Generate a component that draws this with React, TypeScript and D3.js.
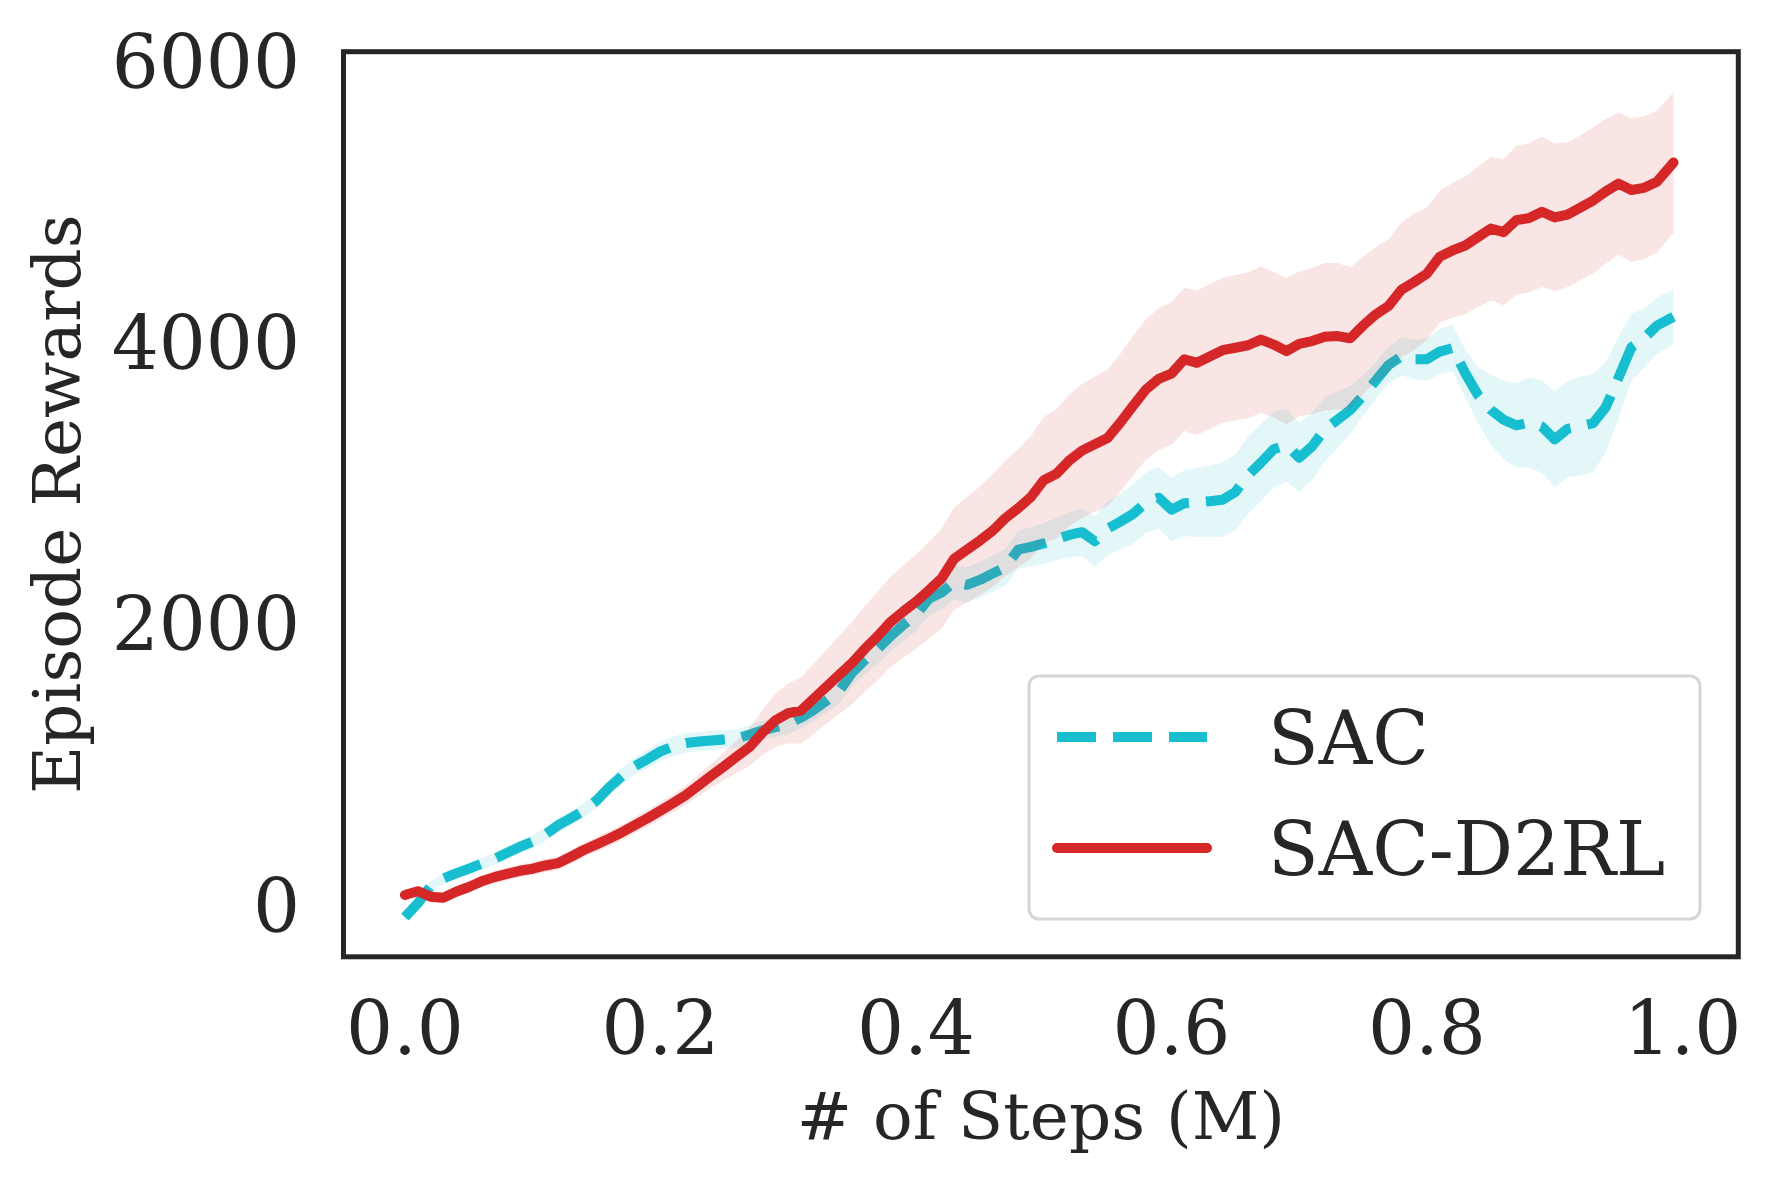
import * as d3 from 'd3'

// x positions (million steps)
const steps = [
  0.0, 0.01, 0.02, 0.03, 0.04, 0.05, 0.06, 0.07, 0.08, 0.09,
  0.1, 0.11, 0.12, 0.13, 0.14, 0.15, 0.16, 0.17, 0.18, 0.19,
  0.2, 0.21, 0.22, 0.23, 0.24, 0.25, 0.26, 0.27, 0.28, 0.29,
  0.3, 0.31, 0.32, 0.33, 0.34, 0.35, 0.36, 0.37, 0.38, 0.39,
  0.4, 0.41, 0.42, 0.43, 0.44, 0.45, 0.46, 0.47, 0.48, 0.49,
  0.5, 0.51, 0.52, 0.53, 0.54, 0.55, 0.56, 0.57, 0.58, 0.59,
  0.6, 0.61, 0.62, 0.63, 0.64, 0.65, 0.66, 0.67, 0.68, 0.69,
  0.7, 0.71, 0.72, 0.73, 0.74, 0.75, 0.76, 0.77, 0.78, 0.79,
  0.8, 0.81, 0.82, 0.83, 0.84, 0.85, 0.86, 0.87, 0.88, 0.89,
  0.9, 0.91, 0.92, 0.93, 0.94, 0.95, 0.96, 0.97, 0.98, 0.993,
]

const sacMean = [
  -90, 8, 130, 185, 222, 255, 290, 325, 368, 410,
  448, 500, 565, 615, 668, 740, 835, 915, 985, 1035,
  1090, 1125, 1150, 1160, 1168, 1175, 1183, 1210, 1240, 1262,
  1285, 1330, 1385, 1450, 1520, 1650, 1740, 1818, 1910, 1990,
  2060, 2175, 2220, 2295, 2275, 2310, 2355, 2400, 2525, 2545,
  2570, 2600, 2630, 2650, 2585, 2675, 2725, 2780, 2860, 2895,
  2810, 2855, 2862, 2870, 2880, 2935, 3055, 3145, 3240, 3270,
  3180, 3260, 3380, 3450, 3520, 3620, 3730, 3840, 3900, 3880,
  3880, 3935, 3960, 3780, 3625, 3520, 3450, 3410, 3430, 3400,
  3310, 3385, 3405, 3425, 3540, 3750, 3965, 4030, 4120, 4183,
]

const sacStd = [
  30, 32, 35, 38, 40, 40, 42, 42, 45, 45,
  45, 48, 50, 50, 52, 55, 58, 60, 62, 65,
  68, 70, 70, 70, 68, 66, 65, 65, 68, 70,
  72, 75, 80, 85, 90, 95, 100, 105, 110, 112,
  115, 118, 120, 122, 125, 128, 130, 132, 135, 140,
  145, 150, 160, 170, 180, 190, 200, 210, 215, 220,
  225, 235, 245, 255, 265, 270, 275, 275, 270, 260,
  245, 240, 230, 200, 170, 145, 130, 130, 135, 140,
  150, 160, 165, 170, 200, 250, 280, 300, 320, 330,
  340, 345, 350, 350, 320, 290, 240, 210, 200, 195,
]

const d2rlMean = [
  68, 95, 56, 48, 91, 125, 165, 195, 218, 240,
  255, 278, 295, 340, 388, 428, 470, 515, 565, 615,
  668, 722, 780, 848, 918, 985, 1055, 1123, 1225, 1310,
  1362, 1380, 1465, 1550, 1635, 1720, 1820, 1910, 2010, 2085,
  2155, 2235, 2320, 2462, 2525, 2590, 2660, 2750, 2820, 2900,
  3020, 3065, 3160, 3230, 3275, 3320, 3430, 3550, 3665, 3740,
  3778, 3880, 3855, 3900, 3945, 3962, 3980, 4020, 3985, 3938,
  3990, 4010, 4040, 4045, 4030, 4120, 4200, 4260, 4375, 4430,
  4490, 4610, 4655, 4690, 4750, 4810, 4785, 4870, 4885, 4930,
  4890, 4910, 4960, 5010, 5075, 5130, 5085, 5100, 5144, 5280,
]

const d2rlStd = [
  35, 35, 38, 40, 40, 42, 42, 44, 45, 45,
  46, 48, 50, 50, 52, 52, 55, 55, 58, 60,
  62, 65, 68, 75, 85, 100, 115, 135, 160, 190,
  215, 235, 250, 262, 280, 295, 305, 315, 322, 328,
  335, 345, 355, 365, 375, 385, 400, 410, 420, 435,
  450, 460, 468, 475, 480, 485, 490, 495, 500, 505,
  508, 510, 512, 515, 515, 518, 520, 520, 518, 520,
  515, 520, 525, 520, 505, 490, 480, 475, 480, 485,
  470, 470, 480, 490, 500, 510, 520, 530, 530, 535,
  525, 515, 515, 520, 515, 505, 510, 508, 505, 500,
]

const xTicks = [0, 0.2, 0.4, 0.6, 0.8, 1.0]
const yTicks = [0, 2000, 4000, 6000]
const seriesNames = ['SAC', 'SAC-D2RL']

type Pt = { x: number; m: number; s: number }

const W = 1771
const H = 1182
const box = { left: 343.5, top: 51.7, right: 1738.3, bottom: 956.8 }
const ink = '#262626'
const font = 'DejaVu Serif'

export default function App() {
  const x = d3.scaleLinear().domain([-0.0481, 1.0437]).range([box.left, box.right])
  const y = d3.scaleLinear().domain([-372, 6069]).range([box.bottom, box.top])

  const build = (mean: number[], sd: number[]): Pt[] =>
    steps.map((s, i) => ({ x: s, m: mean[i], s: sd[i] }))

  const series = [
    { key: seriesNames[0], color: '#17becf', dash: '39 17', cap: 'butt', pts: build(sacMean, sacStd) },
    { key: seriesNames[1], color: '#d62728', dash: undefined, cap: 'round', pts: build(d2rlMean, d2rlStd) },
  ]

  const line = d3
    .line<Pt>()
    .x((d) => x(d.x))
    .y((d) => y(d.m))
  const area = d3
    .area<Pt>()
    .x((d) => x(d.x))
    .y0((d) => y(d.m - d.s))
    .y1((d) => y(d.m + d.s))

  const legend = { x: 1029, y: 676, w: 671, h: 243 }

  return (
    <div style={{ position: 'absolute', left: 0, top: 0 }}>
      <svg width={W} height={H} style={{ display: 'block', background: '#fff' }}>
        {series.map((s) => (
          <g key={s.key}>
            <path d={area(s.pts) ?? undefined} fill={s.color} fillOpacity={0.12} stroke="none" />
            <path
              d={line(s.pts) ?? undefined}
              fill="none"
              stroke={s.color}
              strokeWidth={10}
              strokeDasharray={s.dash}
              strokeLinecap={s.cap as 'butt' | 'round'}
              strokeLinejoin="round"
            />
          </g>
        ))}

        <rect
          x={box.left}
          y={box.top}
          width={box.right - box.left}
          height={box.bottom - box.top}
          fill="none"
          stroke={ink}
          strokeWidth={5}
        />

        {yTicks.map((t) => (
          <text
            key={t}
            x={300}
            y={y(t) + 27}
            textAnchor="end"
            fontFamily={font}
            fontSize={74}
            fill={ink}
          >
            {t}
          </text>
        ))}
        {xTicks.map((t) => (
          <text
            key={t}
            x={x(t)}
            y={1054}
            textAnchor="middle"
            fontFamily={font}
            fontSize={74}
            fill={ink}
          >
            {t.toFixed(1)}
          </text>
        ))}

        <text
          x={(box.left + box.right) / 2}
          y={1139}
          textAnchor="middle"
          fontFamily={font}
          fontSize={66}
          fill={ink}
        >
          # of Steps (M)
        </text>
        <text
          transform={`translate(80,${(box.top + box.bottom) / 2}) rotate(-90)`}
          textAnchor="middle"
          fontFamily={font}
          fontSize={66}
          fill={ink}
        >
          Episode Rewards
        </text>

        <g>
          <rect
            x={legend.x}
            y={legend.y}
            width={legend.w}
            height={legend.h}
            rx={10}
            fill="#fff"
            fillOpacity={0.8}
            stroke="#d6d6d6"
            strokeWidth={3}
          />
          {series.map((s, i) => {
            const ly = 737 + i * 111
            return (
              <g key={s.key}>
                <line
                  x1={1057}
                  x2={1207}
                  y1={ly}
                  y2={ly}
                  stroke={s.color}
                  strokeWidth={10}
                  strokeDasharray={s.dash}
                  strokeLinecap={s.cap as 'butt' | 'round'}
                />
                <text x={1268} y={ly + 27} fontFamily={font} fontSize={74} fill={ink}>
                  {s.key}
                </text>
              </g>
            )
          })}
        </g>
      </svg>
    </div>
  )
}
